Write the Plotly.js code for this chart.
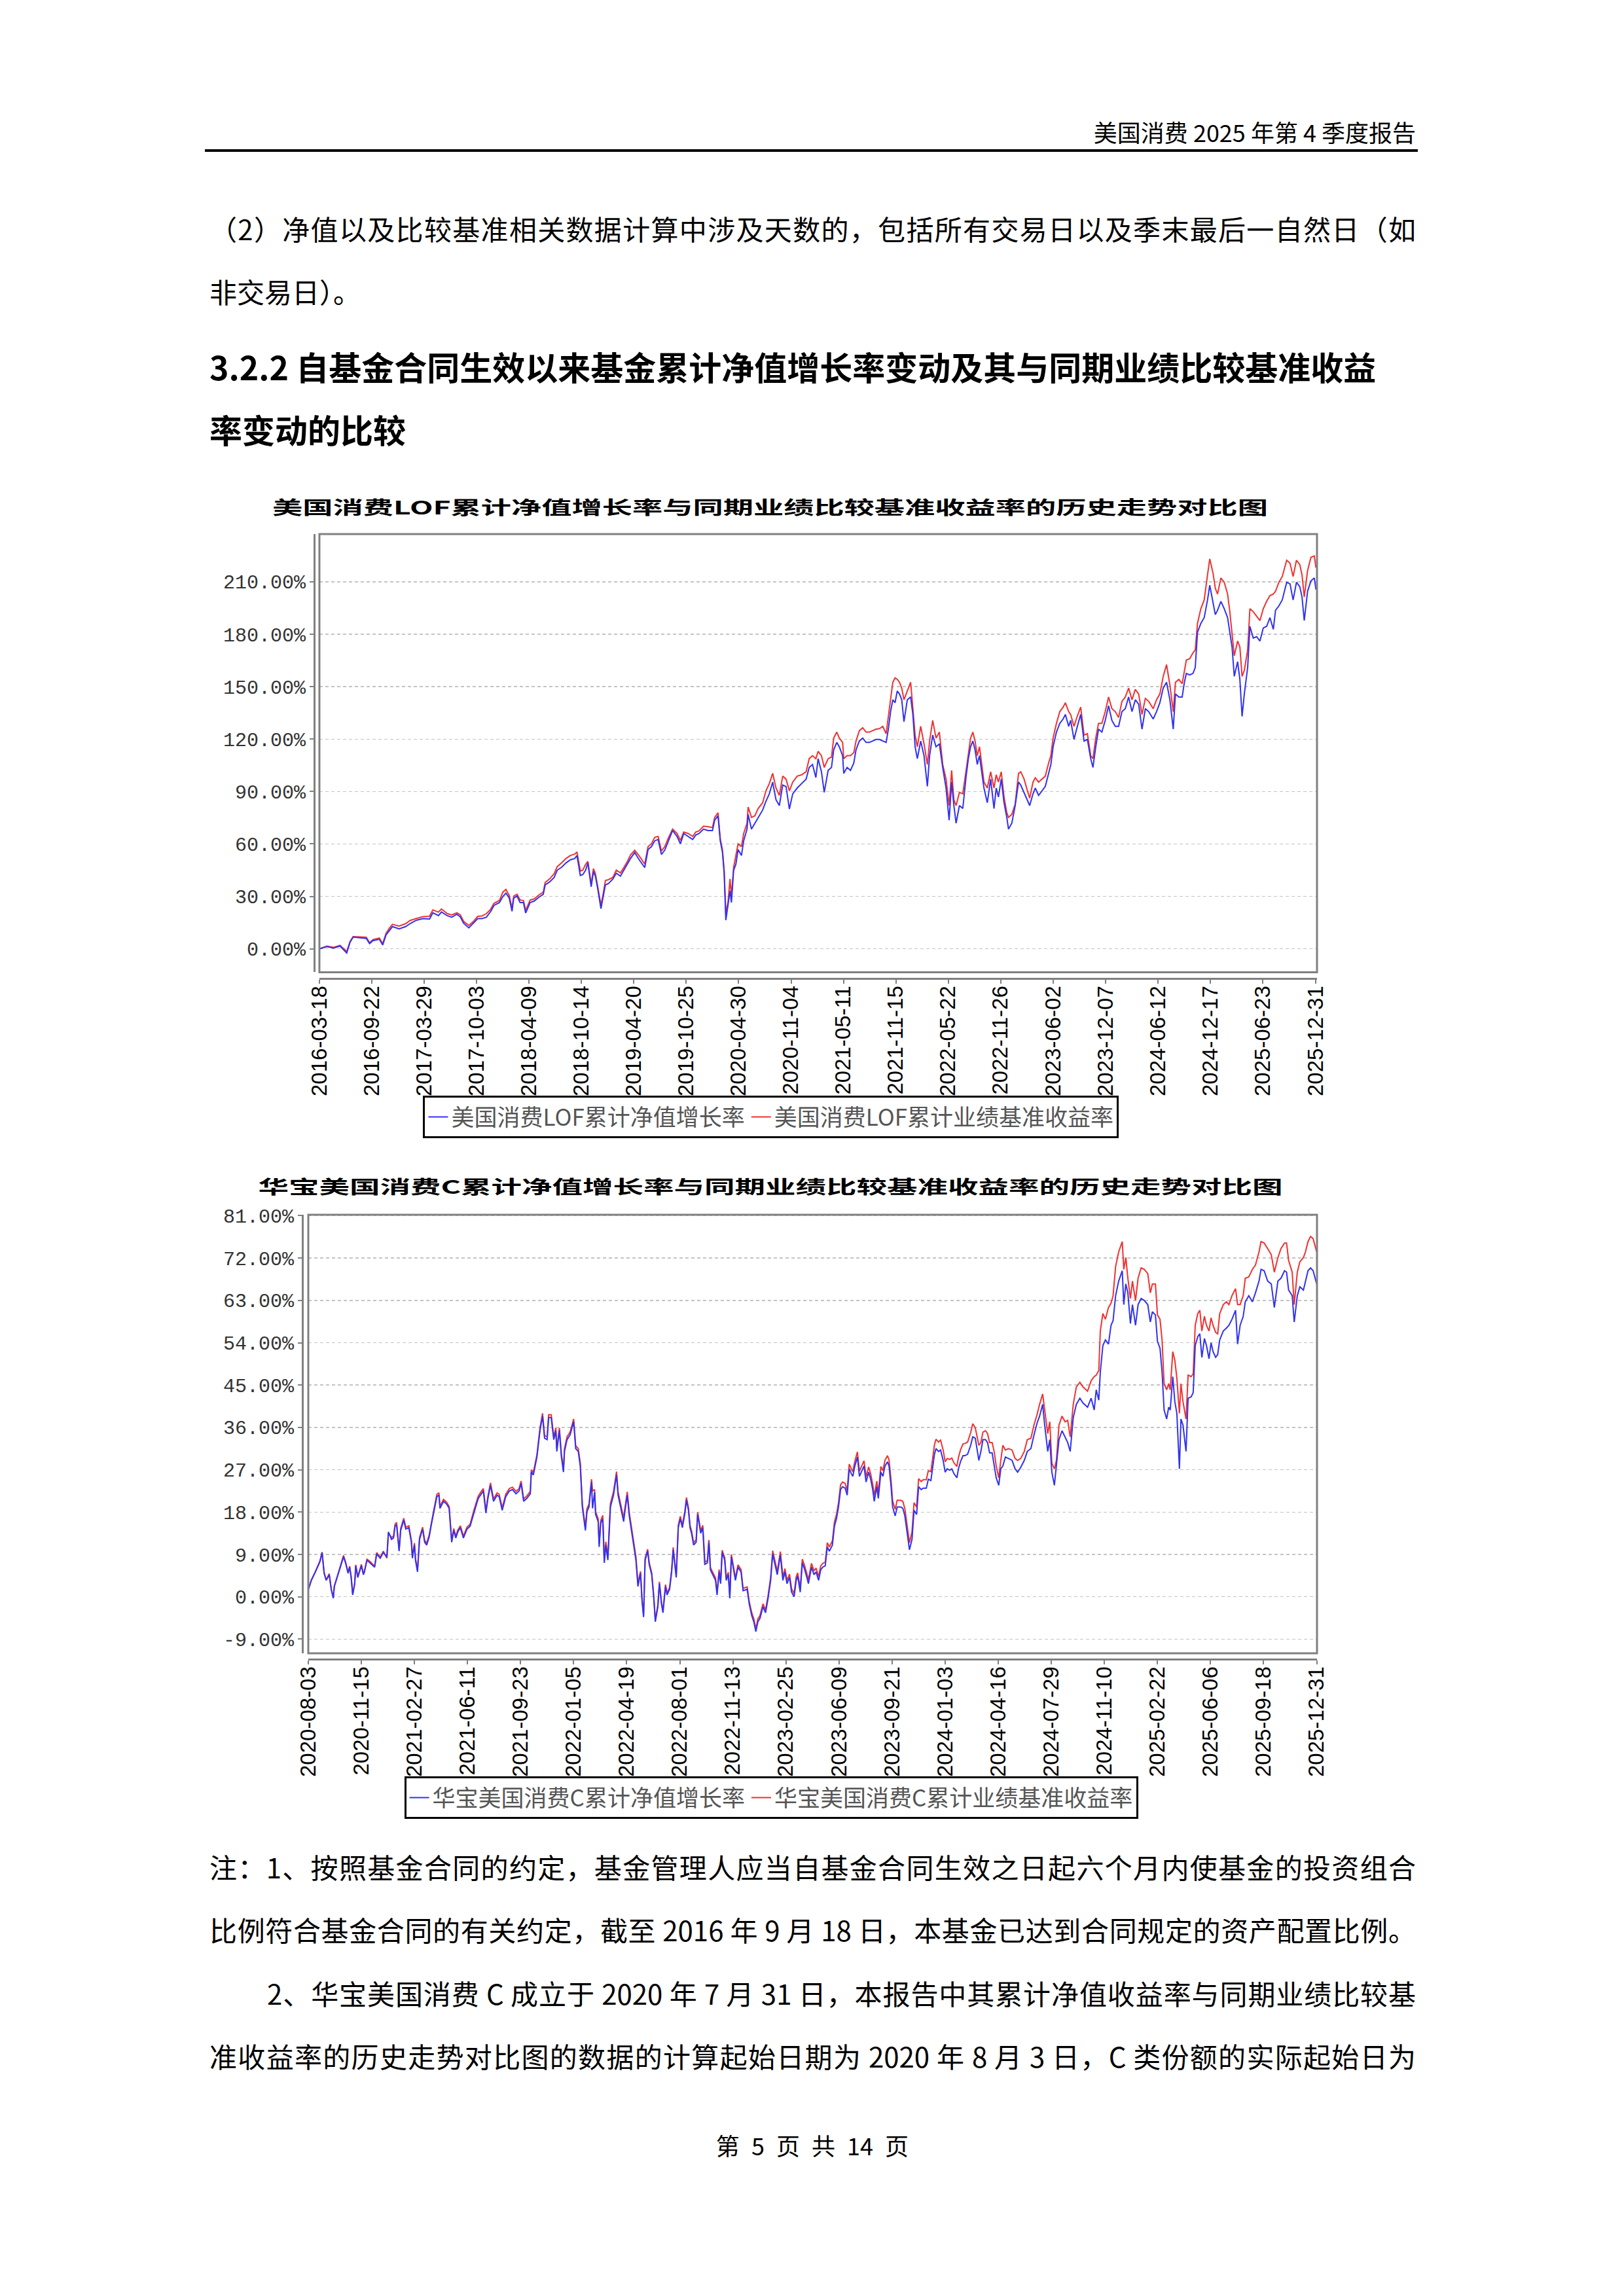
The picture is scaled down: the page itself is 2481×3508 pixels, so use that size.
<!DOCTYPE html>
<html>
<head>
<meta charset="utf-8">
<script src="https://cdn.plot.ly/plotly-3.0.1.min.js"></script>
<style>
html,body{margin:0;padding:0;background:#fff;}
#page{position:relative;width:2481px;height:3508px;background:#fff;overflow:hidden;font-family:"Noto Sans CJK SC",sans-serif;color:#000;}
.t{position:absolute;white-space:nowrap;}
.j{position:absolute;white-space:nowrap;text-align:justify;text-align-last:justify;}
.chart{position:absolute;}
</style>
</head>
<body>
<div id="page">
  <div class="t" style="right:318px;top:176px;font-size:36px;line-height:50px;">美国消费 2025 年第 4 季度报告</div>
  <div style="position:absolute;left:313px;top:228px;width:1853px;height:4px;background:#000;"></div>

  <div class="j" style="left:320px;width:1843px;top:319px;font-size:42px;line-height:60px;">（2）净值以及比较基准相关数据计算中涉及天数的，包括所有交易日以及季末最后一自然日（如</div>
  <div class="t" style="left:320px;top:415px;font-size:42px;line-height:60px;">非交易日）。</div>

  <div class="t" style="left:320px;top:529px;font-size:50px;line-height:60px;font-weight:700;">3.2.2 自基金合同生效以来基金累计净值增长率变动及其与同期业绩比较基准收益</div>
  <div class="t" style="left:320px;top:625px;font-size:50px;line-height:60px;font-weight:700;">率变动的比较</div>

  <div id="chart1" class="chart" style="left:300px;top:740px;width:1760px;height:1020px;"></div>
  <div id="chart2" class="chart" style="left:300px;top:1780px;width:1760px;height:1020px;"></div>

  <div class="j" style="left:320px;width:1843px;top:2822px;font-size:42px;line-height:60px;">注：1、按照基金合同的约定，基金管理人应当自基金合同生效之日起六个月内使基金的投资组合</div>
  <div class="j" style="left:320px;width:1843px;top:2918px;font-size:42px;line-height:60px;">比例符合基金合同的有关约定，截至 2016 年 9 月 18 日，本基金已达到合同规定的资产配置比例。</div>
  <div class="j" style="left:408px;width:1755px;top:3015px;font-size:42px;line-height:60px;">2、华宝美国消费 C 成立于 2020 年 7 月 31 日，本报告中其累计净值收益率与同期业绩比较基</div>
  <div class="j" style="left:320px;width:1843px;top:3111px;font-size:42px;line-height:60px;">准收益率的历史走势对比图的数据的计算起始日期为 2020 年 8 月 3 日，C 类份额的实际起始日为</div>

  <div class="t" style="left:1041px;width:400px;text-align:center;top:3252px;font-size:36px;line-height:50px;word-spacing:10px;">第 5 页 共 14 页</div>
</div>

<script>
// ---------------- Chart 1 data: 美国消费LOF ----------------
const LOF_START = '2016-03-18';
const LOF_TITLE = '美国消费LOF累计净值增长率与同期业绩比较基准收益率的历史走势对比图';
const LOF_NAV_NAME = '美国消费LOF累计净值增长率';
const LOF_BENCH_NAME = '美国消费LOF累计业绩基准收益率';
const LOF_TICKS = ['2016-03-18','2016-09-22','2017-03-29','2017-10-03','2018-04-09','2018-10-14','2019-04-20','2019-10-25','2020-04-30','2020-11-04','2021-05-11','2021-11-15','2022-05-22','2022-11-26','2023-06-02','2023-12-07','2024-06-12','2024-12-17','2025-06-23','2025-12-31'];
const LOF_YTICKS = [0,30,60,90,120,150,180,210];
// days since LOF_START
const LOF_DAYS = [
0,27,51,74,98,110,121,145,168,180,
192,215,227,239,251,262,286,309,325,348,
372,395,407,427,438,458,474,493,505,517,
536,552,568,583,599,615,626,646,658,669,
681,691,697,709,720,732,740,756,771,787,
803,810,826,842,853,869,885,900,916,924,
936,945,955,963,975,983,990,998,1010,1018,
1026,1037,1053,1065,1080,1092,1104,1116,1131,1147,
1167,1179,1191,1203,1215,1227,1239,1251,1267,1283,
1295,1307,1323,1339,1350,1362,1378,1394,1410,1418,
1430,1438,1446,1452,1458,1466,1473,1478,1486,1494,
1502,1514,1522,1534,1538,1550,1562,1574,1590,1602,
1614,1626,1638,1650,1662,1674,1686,1698,1714,1730,
1746,1757,1769,1781,1789,1801,1811,1825,1837,1845,
1856,1865,1877,1881,1893,1905,1917,1925,1937,1949,
1961,1973,1985,1997,2009,2021,2033,2041,2049,2057,
2065,2073,2081,2089,2097,2109,2121,2129,2137,2145,
2157,2169,2181,2189,2200,2212,2224,2236,2248,2259,
2268,2276,2284,2296,2308,2320,2328,2336,2344,2352,
2360,2368,2376,2384,2396,2408,2420,2428,2436,2446,
2456,2466,2472,2484,2496,2508,2516,2528,2540,2548,
2560,2568,2580,2592,2604,2616,2624,2632,2644,2656,
2668,2676,2688,2695,2707,2719,2731,2743,2755,2767,
2775,2785,2795,2807,2819,2831,2843,2855,2867,2879,
2891,2903,2915,2927,2939,2951,2963,2975,2991,3003,
3015,3027,3039,3051,3063,3071,3083,3095,3103,3110,
3122,3134,3142,3150,3162,3174,3186,3194,3206,3214,
3222,3234,3246,3258,3266,3274,3282,3294,3302,3310,
3318,3330,3338,3350,3362,3374,3386,3398,3410,3422,
3430,3442,3454,3470,3482,3493,3505,3517,3525,3533,
3545,3557,3569,3575];
const LOF_NAV = [
0,1.3,0.5,1.6,-2.4,3.8,6.7,6.3,6.0,3.0,
4.7,5.5,2.2,8.0,10.6,12.7,11.4,12.7,14.4,16.4,
17.3,17.0,20.6,19.0,21.1,19.0,18.1,19.8,18.4,14.7,
12.0,14.7,17.3,17.3,18.1,21.5,24.8,26.5,29.9,31.9,
29.0,21.5,29.0,30.2,26.5,26.5,20.5,26.5,27.4,29.5,
31.2,36.6,38.3,40.8,45.0,46.7,49.2,50.9,51.7,53.4,
42.0,42.5,45.0,49.2,35.5,44.2,41.6,34.9,23.0,29.9,
36.6,37.4,40.0,43.3,41.6,45.0,48.4,51.7,55.1,51.0,
46.5,56.8,58.5,61.8,62.6,54.0,56.5,61.0,67.7,64.3,
60.1,66.0,64.3,62.6,65.1,66.0,68.5,67.7,67.7,73.6,
76.1,61.8,55.1,43.3,16.4,24.8,33.2,26.5,45.0,48.4,
56.8,53.4,61.8,68.5,76.9,68.5,71.9,75.2,79.4,84.5,
88.7,95.4,85.3,82.0,93.7,92.9,80.0,88.7,92.0,94.6,
97.1,103.8,105.5,98.0,108.8,101.3,89.5,102.1,103.8,113.9,
118.1,115.6,110.5,100.4,103.8,102.1,106.3,113.9,118.9,120.6,
118.1,118.1,118.9,119.8,119.8,118.9,118.1,125.7,135.7,142.5,
140.8,147.5,145.8,142.5,130.0,142.5,144.1,134.1,115.6,108.8,
118.9,110.5,93.0,110.5,122.3,115.6,117.3,103.8,92.0,73.6,
95.4,82.0,71.9,82.0,80.3,98.8,108.8,115.6,118.9,113.9,
105.5,110.5,100.4,92.0,83.6,97.1,80.3,92.0,86.9,97.1,
83.6,75.2,68.5,71.9,82.0,95.4,93.7,89.5,85.3,82.0,
88.7,92.0,87.8,90.4,92.9,100.4,105.5,115.6,124.0,129.0,
131.5,134.1,127.3,130.7,119.8,127.3,134.1,118.9,119.8,108.8,
103.8,115.6,125.7,124.0,130.7,139.1,130.7,127.3,127.3,135.7,
137.4,144.1,135.7,142.5,140.0,125.7,137.4,135.7,131.5,135.7,
140.8,149.2,152.5,142.5,125.7,145.8,144.1,144.1,152.5,157.6,
156.7,157.6,161.0,181.1,186.2,189.5,199.6,208.0,197.9,191.2,
193.7,198.8,194.6,189.5,181.1,172.7,155.9,164.3,154.2,133.0,
145.8,161.0,184.5,177.8,178.6,176.1,183.6,184.5,189.5,182.8,
193.7,196.2,199.6,209.7,208.8,199.6,209.7,207.2,201.3,187.8,
204.6,210.5,212.2,205.5];
const LOF_BENCH = [
0,1.6,0.8,2.0,-1.5,4.2,7.0,6.8,6.6,3.5,
5.3,6.2,3.0,8.8,11.8,14.0,13.0,14.4,16.2,17.4,
18.4,18.6,22.3,21.0,22.8,20.2,19.4,20.6,19.6,15.8,
13.4,15.6,18.6,18.8,20.1,22.8,26.0,27.7,32.4,34.0,
30.5,23.0,30.2,31.2,28.0,27.6,22.0,27.9,28.6,30.8,
32.4,38.0,40.0,43.0,47.0,49.2,51.7,53.4,54.2,55.4,
44.5,45.0,48.4,50.0,37.0,45.9,43.0,36.0,25.0,31.5,
39.1,39.6,40.9,45.0,43.5,46.5,49.8,53.7,56.4,53.2,
48.5,58.5,60.1,63.8,64.3,56.0,58.5,63.1,68.5,66.0,
62.0,66.8,66.0,64.3,66.8,67.5,70.2,69.9,69.4,75.2,
77.8,63.0,56.5,45.0,20.0,27.0,40.0,30.0,46.7,53.4,
60.1,58.5,66.0,71.9,81.1,75.2,76.1,80.3,83.6,90.4,
94.6,100.4,92.0,87.8,98.8,97.1,90.4,95.4,98.8,99.6,
101.3,108.8,110.5,108.8,113.0,110.5,103.8,108.8,109.7,120.6,
124.0,120.6,118.1,108.8,110.5,110.5,112.2,118.9,124.8,126.5,
124.0,124.0,124.8,125.7,126.0,127.3,123.1,132.4,142.5,152.5,
155.0,154.2,152.5,149.2,142.5,147.5,152.5,137.4,122.3,115.6,
127.3,117.3,105.5,118.9,130.7,120.6,124.0,105.5,97.1,82.0,
102.1,85.3,82.0,89.5,88.7,102.1,112.2,120.6,124.0,118.9,
110.5,115.6,105.5,95.4,92.0,101.3,92.0,99.6,95.4,101.3,
86.9,77.8,75.2,76.9,82.8,100.4,101.3,97.1,90.4,86.2,
95.4,97.9,95.4,97.1,98.8,106.3,110.5,120.6,129.0,135.7,
138.3,140.8,135.7,134.1,127.3,133.2,138.3,122.3,123.1,110.5,
108.8,120.6,129.0,129.0,135.7,144.1,137.4,135.7,132.4,141.6,
144.1,149.2,142.5,148.4,145.8,134.1,143.3,141.6,137.4,142.5,
145.8,155.9,162.6,150.9,135.7,152.5,154.2,151.7,159.3,165.2,
166.0,169.4,171.0,186.2,194.6,199.6,213.9,223.1,214.7,206.3,
203.0,212.2,209.7,203.0,192.9,179.4,167.7,176.1,172.7,155.9,
159.3,171.0,194.6,192.9,190.3,187.8,194.6,198.8,202.1,203.0,
204.6,209.7,213.0,222.3,220.6,213.0,222.3,219.8,213.9,201.3,
216.4,224.0,224.8,218.1];

// ---------------- Chart 2 data: 华宝美国消费C ----------------
const C_START = '2020-08-03';
const C_TITLE = '华宝美国消费C累计净值增长率与同期业绩比较基准收益率的历史走势对比图';
const C_NAV_NAME = '华宝美国消费C累计净值增长率';
const C_BENCH_NAME = '华宝美国消费C累计业绩基准收益率';
const C_TICKS = ['2020-08-03','2020-11-15','2021-02-27','2021-06-11','2021-09-23','2022-01-05','2022-04-19','2022-08-01','2022-11-13','2023-02-25','2023-06-09','2023-09-21','2024-01-03','2024-04-16','2024-07-29','2024-11-10','2025-02-22','2025-06-06','2025-09-18','2025-12-31'];
const C_YTICKS = [-9,0,9,18,27,36,45,54,63,72,81];
// days since C_START
const C_DAYS = [
0,6,14,23,27,31,35,41,45,49,
51,57,62,69,73,78,81,84,87,91,
93,97,104,108,110,115,121,130,134,141,
147,154,157,163,167,170,173,178,181,187,
191,197,202,204,208,210,214,218,224,228,
232,237,241,246,252,256,258,265,271,276,
281,285,289,293,298,304,311,317,324,328,
333,339,343,348,352,357,363,370,374,380,
387,394,400,407,413,417,422,428,435,437,
441,448,454,459,463,468,471,476,481,485,
487,492,496,500,502,507,513,520,524,529,
533,537,543,546,550,555,557,561,563,568,
570,573,577,580,583,587,592,598,604,607,
611,618,620,625,629,633,638,642,646,
651,654,657,660,665,668,673,677,680,685,
688,692,695,700,703,708,712,715,718,721,
725,729,733,738,741,745,748,751,755,760,
763,769,773,777,782,785,788,795,798,801,
805,808,811,816,819,823,826,829,833,837,
842,848,852,860,864,869,873,877,881,885,
891,896,901,906,910,915,919,925,930,934,
938,943,947,952,956,959,964,968,972,977,
980,986,991,995,1000,1004,1008,1013,1017,1021,
1027,1031,1035,1039,1043,1047,1052,1056,1060,1064,
1067,1071,1076,1080,1084,1089,1093,1098,1102,1106,
1109,1114,1117,1122,1126,1130,1135,1138,1142,1145,
1150,1154,1161,1165,1169,1174,1178,1183,1187,1192,
1196,1201,1205,1211,1215,1220,1224,1227,1230,1235,
1239,1244,1248,1252,1257,1261,1265,1271,1274,1278,
1283,1287,1292,1298,1302,1307,
1314,1318,1322,1327,1331,1335,1340,1344,1348,1353,
1357,1361,1366,1372,1379,1385,1390,1396,1403,1409,
1416,1422,1428,1433,1439,1443,1449,1453,1457,1462,
1466,1471,1477,1483,1488,1493,1499,1505,1512,1518,
1527,1534,1540,1544,1549,1552,1557,1562,1568,1573,
1577,1582,1588,1595,1598,1602,1606,1611,1615,1621,
1626,1632,1638,1645,1650,1654,1660,1664,1669,1673,
1677,1682,1686,1689,1694,1698,1702,1707,1710,1714,
1720,1724,1730,1734,1738,1743,1747,1751,1756,1760,
1765,1769,1773,1778,1782,1786,1793,1799,1804,1810,
1817,1821,1826,1832,1836,1843,1850,1856,1863,1867,
1873,1880,1887,1893,1900,1906,1913,1917,1921,1928,
1932,1938,1943,1950,1954,1959,1964,1969,1976];
const C_NAV = [
1.5,3.5,5.3,7.5,9.4,5.0,3.5,4.7,1.5,-0.3,
2.2,4.4,6.0,8.5,7.2,5.0,6.3,4.1,0.4,2.8,
6.6,4.1,6.6,4.7,5.3,7.8,7.2,6.3,9.1,8.2,
9.4,8.5,13.8,12.2,12.5,15.0,15.3,9.7,14.1,16.3,
14.4,14.7,11.6,8.2,11.0,7.8,5.3,12.2,14.4,11.6,
11.0,12.8,15.3,18.1,21.3,21.6,18.8,20.3,19.7,18.8,
11.6,14.1,12.5,13.8,14.7,12.5,14.4,15.0,17.8,19.1,
20.9,21.9,22.5,17.8,20.9,23.7,20.3,21.6,21.3,18.4,
21.3,22.5,22.8,21.9,22.5,24.1,20.3,20.9,21.9,26.5,
25.9,29.7,35.3,38.4,33.7,33.4,38.1,38.1,33.4,35.3,
30.9,35.3,29.7,26.5,30.9,33.4,34.4,37.2,31.5,30.9,
27.8,19.1,14.1,18.1,19.1,24.4,18.8,22.2,17.5,16.0,
10.6,15.6,16.6,7.2,11.0,7.8,19.1,21.6,25.9,21.6,
19.7,16.0,17.8,21.6,17.2,14.1,10.3,7.8,2.2,
5.0,-0.9,-4.3,7.8,9.7,6.9,4.7,-0.3,-5.3,-2.1,
2.8,-1.5,-3.4,2.2,0.4,1.6,5.3,10.0,7.2,4.1,
14.7,16.6,14.7,17.8,20.6,18.4,14.7,13.5,11.0,11.6,
17.5,13.5,14.7,6.9,7.2,11.6,5.7,4.1,3.5,0.4,
5.3,2.8,9.4,7.8,3.5,4.7,-0.3,8.5,6.0,3.5,
6.3,5.3,1.3,1.6,-1.5,-4.0,-5.3,-7.4,-5.3,-4.6,
-2.1,-3.4,-0.3,3.5,9.1,6.6,4.7,8.9,3.5,5.3,
2.8,4.1,1.0,0.0,3.5,4.4,1.0,7.2,6.0,4.1,
2.8,6.3,4.7,5.3,3.5,5.7,6.3,6.6,10.6,9.7,
11.0,15.0,16.6,19.1,22.8,23.4,23.1,21.6,27.2,26.2,
25.6,27.8,29.7,25.6,26.5,27.8,24.4,26.5,25.0,22.8,
20.3,23.4,20.9,26.5,25.6,27.8,28.7,27.8,23.4,19.1,
17.2,19.1,19.1,18.8,17.2,13.5,10.0,12.2,18.4,17.5,
23.4,22.8,23.1,23.1,25.0,24.7,27.8,30.3,31.5,30.9,
31.2,29.0,26.5,27.2,26.9,27.2,26.2,25.3,27.2,28.7,
30.0,30.0,30.3,32.2,34.0,33.7,
29.0,30.9,33.4,33.4,32.8,30.6,30.6,27.8,25.3,23.7,
27.2,27.8,29.7,29.4,29.0,27.2,26.5,27.5,29.0,30.9,
31.5,34.4,36.9,38.4,40.9,36.5,30.9,33.4,26.5,23.7,
28.4,33.4,35.3,34.0,32.8,30.9,38.1,40.9,42.2,41.2,
40.3,42.2,39.7,44.0,41.8,47.8,53.4,54.6,53.7,57.7,
58.7,64.0,67.1,69.3,62.1,66.5,64.6,58.1,62.1,57.7,
62.1,63.4,63.0,62.1,58.4,60.6,59.9,54.3,52.8,47.8,
39.7,37.8,40.3,39.7,46.8,41.5,39.0,27.2,37.8,36.5,
30.9,42.2,42.5,43.4,53.4,55.3,55.9,50.9,54.9,53.4,
50.6,54.0,52.1,50.9,51.5,54.6,56.5,57.1,57.7,59.0,
60.9,53.7,57.7,59.6,62.7,64.0,62.7,64.6,67.1,69.6,
69.3,67.1,66.5,61.5,67.1,67.7,69.3,69.0,65.2,64.0,
58.4,64.0,65.9,65.2,67.1,69.3,69.9,69.3,66.5];
const C_BENCH = [
1.5,3.6,5.4,7.7,9.5,5.2,3.6,4.9,1.7,-0.1,
2.3,4.6,6.2,8.8,7.4,5.2,6.5,4.3,0.6,3.0,
6.8,4.3,6.9,4.9,5.5,8.0,7.5,6.5,9.4,8.4,
9.7,8.2,13.6,12.6,12.9,15.4,15.8,10.0,14.5,16.7,
14.8,15.1,12.0,8.6,11.4,8.2,5.6,12.6,14.8,12.0,
11.4,13.2,15.7,18.5,21.8,22.1,19.2,20.7,20.1,19.2,
12.0,14.5,12.9,14.2,15.1,12.9,14.8,15.4,18.2,19.6,
21.4,22.4,23.0,18.3,21.4,24.2,20.8,22.1,21.8,18.9,
21.8,23.0,23.3,22.4,23.0,24.6,20.8,21.4,22.4,27.0,
26.4,30.2,35.9,39.0,34.3,34.0,38.7,38.7,34.0,35.9,
31.5,35.9,30.3,27.1,31.5,34.0,35.0,37.8,32.1,31.5,
28.4,19.7,14.7,18.7,19.7,25.0,22.5,22.8,18.1,16.6,
11.2,16.2,17.3,7.9,11.7,8.5,19.8,22.3,26.6,22.3,
20.4,16.7,18.5,22.3,17.9,14.8,11.0,8.5,2.9,
5.4,-0.5,-3.9,8.2,10.1,7.3,5.1,0.1,-4.9,-1.7,
3.2,-1.1,-3.0,2.6,0.8,2.0,5.7,10.5,7.7,4.6,
15.2,17.1,15.2,18.3,21.1,18.9,15.2,14.0,11.5,12.1,
18.0,14.0,15.2,7.4,7.7,12.1,6.2,4.6,4.0,0.9,
5.8,3.3,9.9,8.3,4.0,5.2,0.2,9.0,6.5,4.0,
6.8,5.8,1.8,2.1,-1.0,-3.4,-4.7,-6.8,-4.7,-4.0,
-1.5,-2.8,0.3,4.1,9.8,7.3,5.4,9.6,4.2,6.0,
3.5,4.8,1.7,0.7,4.2,5.1,1.7,8.0,6.8,4.9,
3.6,7.1,5.5,6.1,4.3,6.5,7.1,7.4,11.5,10.6,
11.9,15.9,17.5,20.0,23.8,24.4,24.1,22.6,28.2,27.2,
26.6,28.8,30.8,26.7,27.6,28.9,25.5,27.6,26.1,23.9,
21.5,24.6,22.1,27.7,26.8,29.0,30.0,29.1,24.7,20.4,
18.6,20.5,20.5,20.3,18.7,15.0,11.5,13.8,20.0,19.1,
25.1,24.5,24.9,24.9,26.8,26.6,29.7,32.3,33.5,32.9,
33.3,31.2,28.7,29.4,29.2,29.5,28.5,27.7,29.6,31.2,
32.5,32.6,32.9,34.9,36.8,35.9,
32.2,32.8,35.0,35.3,34.7,32.8,32.8,30.9,27.8,25.3,
29.0,32.2,31.2,31.5,31.2,29.4,29.0,29.4,30.9,33.4,
33.7,36.5,38.7,40.9,43.1,39.7,34.7,37.2,28.4,27.2,
29.0,36.5,38.4,37.2,37.5,34.0,40.9,44.6,45.6,44.6,
43.7,45.9,46.8,47.1,48.1,56.5,60.2,59.0,61.5,62.4,
64.0,70.2,73.3,75.5,69.6,72.1,67.7,63.4,67.1,63.0,
67.7,69.9,69.6,68.7,64.6,66.5,66.5,59.9,59.0,54.6,
45.3,44.0,45.3,44.0,52.1,50.3,46.5,39.0,45.3,41.5,
37.8,47.1,46.8,47.4,57.7,60.2,60.9,56.5,59.6,57.7,
56.5,59.3,57.7,56.2,55.9,60.2,62.1,62.7,62.1,64.0,
65.5,62.1,62.1,64.0,67.7,68.0,69.6,70.5,73.3,75.5,
75.2,74.0,72.7,69.0,72.1,74.0,75.2,75.2,71.5,69.0,
62.1,69.0,71.2,72.1,73.3,75.5,76.6,76.1,73.3];

// ---------------- helpers ----------------
function toDates(start, days) {
  const t0 = Date.parse(start + 'T00:00:00Z');
  return days.map(d => new Date(t0 + d * 86400000).toISOString().slice(0, 10));
}
function fit(a, b, c) {
  const n = Math.min(a.length, b.length, c.length);
  if (a.length !== b.length || a.length !== c.length) console.log('length mismatch', a.length, b.length, c.length);
  return [a.slice(0, n), b.slice(0, n), c.slice(0, n)];
}
const BLUE = '#3232f0', RED = '#f03232', AXIS = '#808080';

function makeChart(divId, cfg) {
  const [days, nav, bench] = fit(cfg.days, cfg.nav, cfg.bench);
  const x = toDates(cfg.start, days);
  const traces = [
    {x: x, y: bench, type: 'scatter', mode: 'lines', name: cfg.benchName, line: {color: RED, width: 2}},
    {x: x, y: nav, type: 'scatter', mode: 'lines', name: cfg.navName, line: {color: BLUE, width: 2}}
  ];
  const layout = {
    width: 1760, height: 1020,
    margin: {l: cfg.ml, r: 48, t: 76, b: cfg.mb, pad: 0},
    paper_bgcolor: 'rgba(0,0,0,0)', plot_bgcolor: '#ffffff',
    showlegend: true,
    title: {text: cfg.title, font: {family: 'Noto Sans CJK SC', size: 28, color: '#000', weight: 700},
            x: cfg.tx, xref: 'container', xanchor: 'center', y: cfg.ty, yref: 'container', yanchor: 'middle'},
    xaxis: {type: 'date', range: cfg.xrange, domain: [cfg.xd, 1], anchor: 'free', position: 0,
            showline: true, linecolor: AXIS, linewidth: 3, ticks: 'outside', ticklen: 6, tickwidth: 2, tickcolor: AXIS,
            tickmode: 'array', tickvals: cfg.ticks, ticktext: cfg.ticks, tickangle: -90, ticklabelstandoff: -10,
            tickfont: {family: 'Liberation Sans', size: 33, color: '#000'}, showgrid: false, zeroline: false},
    yaxis: {range: cfg.yrange, domain: [cfg.yd, 1], anchor: 'free', position: 0,
            showline: true, linecolor: AXIS, linewidth: 3, ticks: 'outside', ticklen: 6, tickwidth: 2, tickcolor: AXIS,
            tickmode: 'array', tickvals: cfg.yticks, ticktext: cfg.yticks.map(v => v.toFixed(2) + '%'),
            tickfont: {family: 'Liberation Mono', size: 30, color: '#333'},
            showgrid: true, gridcolor: '#c4c4c4', gridwidth: 1.5, griddash: '5px,4px', zeroline: false},
    shapes: [{type: 'rect', xref: 'x domain', yref: 'y domain', x0: 0, x1: 1, y0: 0, y1: 1,
              line: {color: AXIS, width: 3}, fillcolor: 'rgba(0,0,0,0)', layer: 'above'}],
    legend: {orientation: 'h', x: cfg.lx, xanchor: 'center', y: -0.264, yanchor: 'top',
             bordercolor: '#000', borderwidth: 3, bgcolor: '#fff', traceorder: 'reversed',
             font: {family: 'Noto Sans CJK SC', size: 35, color: '#555'}}
  };
  return Plotly.newPlot(divId, traces, layout, {staticPlot: true, displayModeBar: false}).then(gd => {
    const t = gd.querySelector('.gtitle');
    if (t) {
      const bb = t.getBBox();
      if (bb.width > 0) {
        const s = cfg.titleW / bb.width;
        const cx = bb.x + bb.width / 2;
        const prev = t.getAttribute('transform') || '';
        t.setAttribute('transform', prev + ' translate(' + cx + ',0) scale(' + s + ',1) translate(' + (-cx) + ',0)');
      }
    }
    return gd;
  });
}

makeChart('chart1', {
  start: LOF_START, days: LOF_DAYS, nav: LOF_NAV, bench: LOF_BENCH,
  navName: LOF_NAV_NAME, benchName: LOF_BENCH_NAME, title: LOF_TITLE,
  ticks: LOF_TICKS, yticks: LOF_YTICKS,
  xrange: ['2016-03-18', '2026-01-03 18:00'], yrange: [-13.4, 237.3],
  ml: 180, mb: 265, xd: 0.0052, yd: 0.014,
  tx: 0.498, ty: 0.9647, titleW: 1521, lx: 0.4556
});
makeChart('chart2', {
  start: C_START, days: C_DAYS, nav: C_NAV, bench: C_BENCH,
  navName: C_NAV_NAME, benchName: C_BENCH_NAME, title: C_TITLE,
  ticks: C_TICKS, yticks: C_YTICKS,
  xrange: ['2020-08-03', '2025-12-31 15:00'], yrange: [-12.0, 81.2],
  ml: 162, mb: 265, xd: 0.0058, yd: 0.0133,
  tx: 0.4983, ty: 0.9667, titleW: 1566, lx: 0.462
});
</script>
</body>
</html>
